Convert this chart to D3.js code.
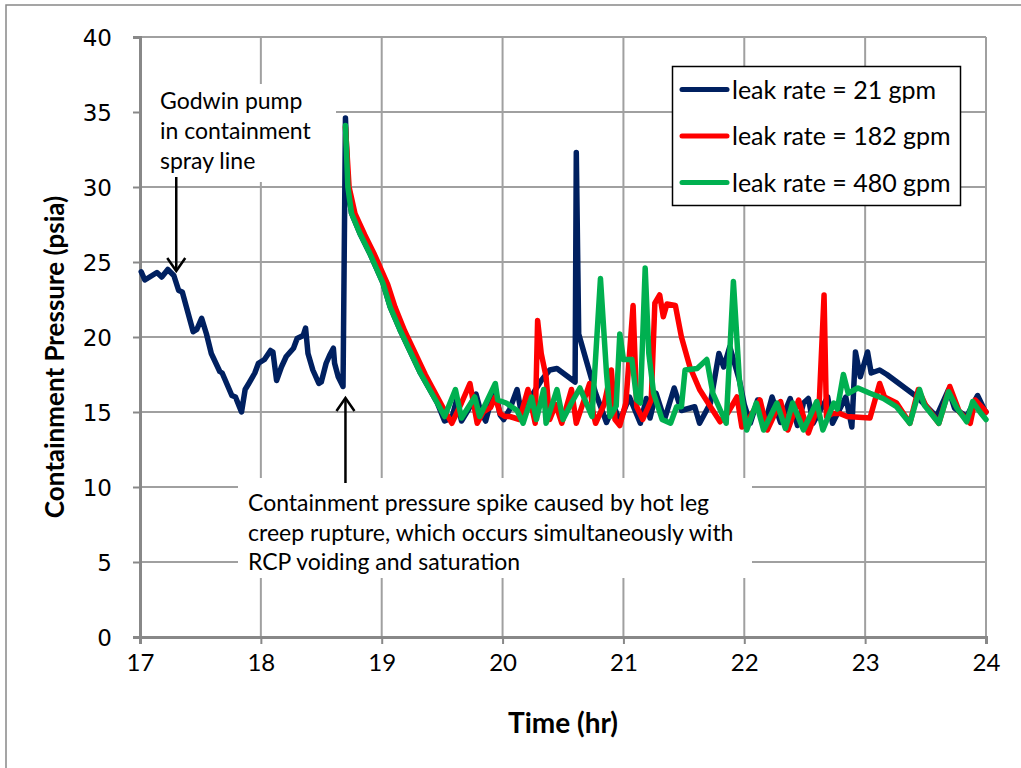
<!DOCTYPE html>
<html>
<head>
<meta charset="utf-8">
<script src="https://cdn.jsdelivr.net/npm/d3@7"></script>
<style>
  body { margin: 0; background: #fff; }
  text { font-family: Lato, "Open Sans", sans-serif; }
</style>
</head>
<body>
<div id="chart"></div>
<script>
// values
const xTicks = [17, 18, 19, 20, 21, 22, 23, 24];
const yTicks = [0, 5, 10, 15, 20, 25, 30, 35, 40];

const seriesNames = ['leak rate = 21 gpm', 'leak rate = 182 gpm', 'leak rate = 480 gpm'];
const seriesColors = ['#002060', '#ff0000', '#00b050'];

const blueTime = [17.01, 17.04, 17.14, 17.18, 17.23, 17.28, 17.32, 17.35, 17.44, 17.47, 17.51, 17.55, 17.59, 17.66, 17.68,
  17.76, 17.79, 17.84, 17.87, 17.90, 17.95, 17.98, 18.03, 18.08, 18.10, 18.13, 18.17, 18.21, 18.27, 18.30, 18.35, 18.37,
  18.39, 18.43, 18.48, 18.50, 18.54, 18.57, 18.60, 18.61, 18.64, 18.68, 18.70, 18.72, 18.75, 18.82, 18.90, 19.01, 19.07,
  19.15, 19.32, 19.46, 19.52, 19.58, 19.62, 19.66, 19.72, 19.78, 19.82, 19.86, 19.90, 19.94, 19.98, 20.01, 20.06, 20.12,
  20.16, 20.20, 20.25, 20.32, 20.39, 20.45, 20.60, 20.61, 20.63, 20.69, 20.77, 20.86, 20.92, 20.97, 21.05, 21.14, 21.19,
  21.22, 21.27, 21.34, 21.42, 21.48, 21.59, 21.63, 21.72, 21.79, 21.83, 21.88, 21.96, 22.00, 22.05, 22.11, 22.17, 22.23,
  22.30, 22.38, 22.44, 22.49, 22.53, 22.57, 22.69, 22.73, 22.84, 22.89, 22.92, 22.96, 23.02, 23.05, 23.12, 23.18, 23.43,
  23.59, 23.69, 23.74, 23.84, 23.93, 23.99, 24.00];
const bluePress = [24.35, 23.8, 24.3, 24.0, 24.5, 24.1, 23.1, 23.0, 20.35, 20.5, 21.25, 20.2, 18.9, 17.7, 17.6,
  16.1, 16.0, 15.0, 16.5, 16.9, 17.6, 18.25, 18.5, 19.1, 19.0, 17.1, 18.0, 18.7, 19.25, 19.9, 20.1, 20.6,
  18.9, 17.8, 16.9, 17.0, 18.25, 18.8, 19.25, 18.25, 17.35, 16.7, 34.6, 30.0, 28.25, 26.9, 25.6, 23.6, 22.0,
  20.5, 17.6, 15.6, 14.4, 14.6, 15.8, 14.4, 15.2, 16.2, 15.0, 14.4, 15.6, 16.4, 14.8, 14.5, 15.2, 16.5,
  14.7, 15.4, 16.2, 17.1, 17.8, 17.9, 17.0, 32.3, 20.2, 18.5, 16.25, 14.3, 15.4, 14.4, 16.0, 14.25, 15.9,
  14.6, 16.25, 14.5, 16.6, 15.1, 15.35, 14.25, 15.6, 18.9, 18.0, 19.35, 17.1, 15.5, 14.25, 15.8, 14.2, 16.0,
  14.3, 15.9, 14.1, 15.6, 15.9, 14.25, 16.0, 14.25, 16.0, 14.0, 19.0, 17.35, 19.0, 17.6, 17.8, 17.5, 16.0,
  14.7, 16.5, 15.25, 14.7, 16.1, 15.1, 15.0];

const redTime = [18.70, 18.73, 18.78, 18.86, 18.94, 19.05, 19.11, 19.19, 19.36, 19.50, 19.58, 19.66, 19.73, 19.79, 19.84,
  19.90, 19.94, 19.98, 20.02, 20.06, 20.14, 20.21, 20.27, 20.29, 20.32, 20.36, 20.39, 20.44, 20.49, 20.57, 20.61, 20.72,
  20.75, 20.77, 20.84, 20.90, 20.93, 20.97, 21.02, 21.08, 21.11, 21.16, 21.23, 21.26, 21.30, 21.33, 21.36, 21.43, 21.48,
  21.55, 21.63, 21.74, 21.80, 21.86, 21.94, 21.98, 22.05, 22.13, 22.19, 22.30, 22.36, 22.45, 22.53, 22.62, 22.66, 22.68,
  22.73, 22.79, 22.85, 23.04, 23.12, 23.16, 23.26, 23.37, 23.44, 23.50, 23.61, 23.70, 23.78, 23.87, 23.91, 23.98, 24.00];
const redPress = [34.0, 30.0, 28.2, 26.8, 25.5, 23.5, 22.0, 20.4, 17.5, 15.4, 14.25, 15.6, 16.9, 14.25, 15.0,
  15.3, 16.0, 14.9, 14.7, 14.7, 14.5, 16.5, 14.25, 21.1, 18.9, 17.35, 14.5, 15.5, 14.25, 16.5, 14.25, 16.9,
  14.9, 14.25, 15.5, 17.8, 14.5, 14.1, 15.6, 22.1, 15.35, 14.5, 15.8, 22.25, 22.8, 21.35, 22.2, 22.1, 20.0,
  18.0, 16.5, 15.1, 14.35, 14.9, 16.0, 14.0, 14.7, 15.8, 13.8, 15.7, 13.8, 15.8, 13.6, 15.6, 22.8, 14.7,
  14.9, 14.9, 14.7, 14.6, 16.9, 16.0, 15.6, 14.25, 16.5, 15.45, 14.25, 16.7, 15.0, 14.25, 15.8, 15.2, 15.0];

const greenTime = [18.70, 18.72, 18.75, 18.82, 18.90, 19.01, 19.07, 19.15, 19.32, 19.46, 19.52, 19.61, 19.66, 19.77, 19.81,
  19.94, 19.96, 20.03, 20.12, 20.17, 20.24, 20.28, 20.34, 20.36, 20.45, 20.50, 20.57, 20.64, 20.74, 20.81, 20.86, 20.89,
  20.94, 20.97, 21.00, 21.07, 21.11, 21.14, 21.18, 21.21, 21.25, 21.32, 21.39, 21.44, 21.48, 21.51, 21.61, 21.69, 21.74,
  21.85, 21.91, 21.96, 22.02, 22.10, 22.16, 22.27, 22.34, 22.40, 22.49, 22.60, 22.65, 22.74, 22.77, 22.82, 22.86, 22.94,
  23.04, 23.15, 23.26, 23.37, 23.45, 23.49, 23.61, 23.69, 23.76, 23.84, 23.89, 23.95, 24.00];
const greenPress = [34.1, 30.0, 28.25, 26.9, 25.6, 23.6, 22.0, 20.5, 17.6, 15.6, 14.7, 16.5, 14.6, 16.0, 14.7,
  16.9, 15.8, 15.6, 15.1, 14.25, 16.0, 14.5, 16.5, 14.25, 16.5, 14.5, 15.6, 16.6, 14.7, 23.9, 17.6, 14.7,
  15.4, 20.2, 18.5, 18.5, 15.8, 15.6, 24.6, 18.9, 16.25, 14.5, 14.25, 15.35, 15.35, 17.8, 17.9, 18.5, 16.25,
  14.25, 23.7, 17.1, 13.8, 15.6, 13.8, 15.6, 13.9, 15.6, 13.8, 15.7, 13.8, 15.6, 15.2, 17.5, 16.25, 16.6,
  16.25, 15.9, 15.35, 14.25, 16.5, 15.45, 14.25, 16.35, 15.25, 14.35, 15.7, 15.0, 14.5];

const godwinNote = ['Godwin pump', 'in containment', 'spray line'];
const spikeNote = ['Containment pressure spike caused by hot leg',
  'creep rupture, which occurs simultaneously with',
  'RCP voiding and saturation'];

const width = 1021, height = 768;
const margin = { left: 140, right: 35, top: 37, bottom: 131 };

const svg = d3.select('#chart')
  .append('svg')
  .attr('width', width)
  .attr('height', height);

// outer chart border
svg.append('path')
  .attr('d', 'M6,' + height + 'V5H' + width)
  .attr('fill', 'none')
  .attr('stroke', '#888')
  .attr('stroke-width', 1.5);

const x = d3.scaleLinear().domain([17, 24]).range([margin.left, width - margin.right]);
const y = d3.scaleLinear().domain([0, 40]).range([height - margin.bottom, margin.top]);

// grid
svg.append('g')
  .selectAll('line')
  .data(xTicks.slice(1))
  .join('line')
  .attr('x1', d => x(d)).attr('x2', d => x(d))
  .attr('y1', y(0)).attr('y2', y(40))
  .attr('stroke', '#a0a0a0').attr('stroke-width', 2);

svg.append('g')
  .selectAll('line')
  .data(yTicks.slice(1))
  .join('line')
  .attr('x1', x(17)).attr('x2', x(24))
  .attr('y1', d => y(d)).attr('y2', d => y(d))
  .attr('stroke', '#a0a0a0').attr('stroke-width', 2);

// white boxes behind the notes hide the grid, as in the original
svg.append('rect').attr('x', 142).attr('y', 84).attr('width', 194).attr('height', 98).attr('fill', '#fff');
svg.append('rect').attr('x', 238).attr('y', 478).attr('width', 514).attr('height', 100).attr('fill', '#fff');

// axes
const xAxis = svg.append('g')
  .attr('transform', 'translate(0,' + y(0) + ')')
  .call(d3.axisBottom(x).tickValues(xTicks).tickSize(7).tickPadding(5).tickFormat(d3.format('d')));
const yAxis = svg.append('g')
  .attr('transform', 'translate(' + x(17) + ',0)')
  .call(d3.axisLeft(y).tickValues(yTicks).tickSize(7).tickPadding(21).tickFormat(d3.format('d')));

[xAxis, yAxis].forEach(a => {
  a.select('.domain').attr('stroke', '#888').attr('stroke-width', 3);
  a.selectAll('.tick line').attr('stroke', '#888').attr('stroke-width', 2);
  a.selectAll('.tick text').attr('fill', '#000');
});
xAxis.selectAll('.tick text').attr('dy', '0.9em')
  .attr('font-size', 24).style('font-family', 'Lato, sans-serif');
yAxis.selectAll('.tick text').attr('dy', '0.36em')
  .attr('font-size', 23).style('font-family', '"DejaVu Sans", sans-serif');

// axis titles
svg.append('text')
  .attr('x', x(20.5)).attr('y', 733)
  .attr('text-anchor', 'middle')
  .attr('font-size', 28).attr('font-weight', 'bold')
  .text('Time (hr)');
svg.append('text')
  .attr('transform', 'translate(64,' + (y(20) + 20) + ') rotate(-90)')
  .attr('text-anchor', 'middle')
  .attr('font-size', 26).attr('font-weight', 'bold')
  .text('Containment Pressure (psia)');

// lines
const line = d3.line()
  .x(d => x(d[0]))
  .y(d => y(d[1]));

const series = [
  d3.zip(blueTime, bluePress),
  d3.zip(redTime, redPress),
  d3.zip(greenTime, greenPress)
];

svg.append('g')
  .selectAll('path')
  .data(series)
  .join('path')
  .attr('d', line)
  .attr('fill', 'none')
  .attr('stroke', (d, i) => seriesColors[i])
  .attr('stroke-width', 5.5)
  .attr('stroke-linejoin', 'round')
  .attr('stroke-linecap', 'round');

// notes
svg.append('text')
  .attr('font-size', 23)
  .selectAll('tspan')
  .data(godwinNote)
  .join('tspan')
  .attr('x', 160)
  .attr('y', (d, i) => 109 + i * 30)
  .text(d => d);

svg.append('text')
  .attr('font-size', 23)
  .selectAll('tspan')
  .data(spikeNote)
  .join('tspan')
  .attr('x', 248)
  .attr('y', (d, i) => 511 + i * 29.5)
  .text(d => d);

function arrow(x0, y0, y1) {
  const dir = y1 > y0 ? 1 : -1;
  svg.append('path')
    .attr('d', 'M' + x0 + ',' + y0 + 'V' + y1)
    .attr('stroke', '#000').attr('stroke-width', 2.5).attr('fill', 'none');
  svg.append('path')
    .attr('d', 'M' + (x0 - 9) + ',' + (y1 - dir * 13) + 'L' + x0 + ',' + y1 + 'L' + (x0 + 9) + ',' + (y1 - dir * 13))
    .attr('stroke', '#000').attr('stroke-width', 2.5).attr('fill', 'none');
}
arrow(x(17.3), 177, 271);
arrow(x(18.7), 483, 398);

// legend
const legend = svg.append('g');
legend.append('rect')
  .attr('x', 672.5).attr('y', 66.5).attr('width', 288).attr('height', 139)
  .attr('fill', '#fff').attr('stroke', '#000').attr('stroke-width', 1.5);
const item = legend.selectAll('g')
  .data(seriesNames)
  .join('g')
  .attr('transform', (d, i) => 'translate(0,' + (89.5 + i * 46.5) + ')');
item.append('line')
  .attr('x1', 682).attr('x2', 727)
  .attr('stroke', (d, i) => seriesColors[i])
  .attr('stroke-width', 5)
  .attr('stroke-linecap', 'round');
item.append('text')
  .attr('x', 732).attr('dy', '0.36em')
  .attr('font-size', 25)
  .text(d => d);
</script>
</body>
</html>
